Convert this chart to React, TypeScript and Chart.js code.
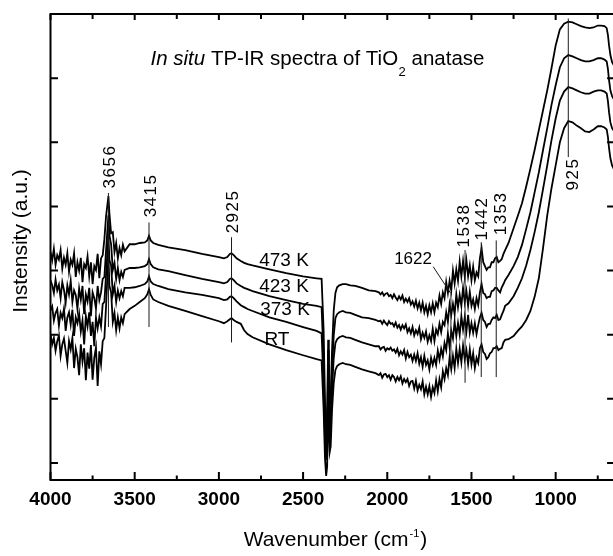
import React, { useEffect, useRef } from 'react';
import { Chart, registerables } from 'chart.js';

Chart.register(...registerables);

// ---------- data (wavenumber in cm-1, intensity in a.u.) ----------
const wavenumbers = [
  4000, 3990, 3980, 3970, 3960, 3950, 3940, 3930, 3920, 3910,
  3900, 3890, 3880, 3870, 3860, 3850, 3840, 3830, 3820, 3810,
  3800, 3790, 3780, 3770, 3760, 3750, 3740, 3730, 3720, 3710,
  3700, 3690, 3680, 3670, 3656, 3650, 3640, 3630, 3620, 3610,
  3600, 3590, 3580, 3570, 3560, 3530, 3500,
  3470, 3440, 3425, 3415, 3405, 3390, 3360, 3300, 3200, 3100,
  3000, 2970, 2950, 2935, 2925, 2912, 2895, 2870, 2850, 2830,
  2800, 2700, 2600, 2500, 2420, 2390,
  2378, 2370, 2363, 2357, 2351, 2347, 2342, 2336, 2328, 2318,
  2308, 2298, 2285, 2265, 2245, 2220, 2190, 2150, 2110, 2070,
  2050, 2040, 2030, 2020, 2010, 2000, 1990, 1980, 1970, 1960,
  1950, 1940, 1930, 1920, 1910, 1900, 1890, 1880, 1870, 1860,
  1850, 1840, 1830, 1820, 1810, 1800, 1790, 1780, 1770, 1760,
  1750, 1740, 1730, 1720, 1710, 1700, 1690, 1680, 1670, 1660,
  1650, 1640, 1630, 1620, 1610, 1600, 1590, 1580, 1570, 1560,
  1550, 1540, 1530, 1520, 1510, 1500, 1490, 1480, 1470, 1460,
  1450, 1440, 1430, 1420, 1410, 1400, 1390, 1380, 1370, 1360,
  1350, 1340, 1330, 1320, 1310,
  1300, 1280, 1250, 1225, 1200, 1175, 1150, 1125, 1100, 1075,
  1050, 1025, 1000, 975, 950, 925, 900, 875, 850, 825,
  800, 775, 750, 730, 710, 697, 690, 683, 675, 665, 650,
];

const spectrum473K = [
  32.9, 31.6, 33.4, 30.9, 32.4, 31.7, 33.2, 30.3, 32.0, 30.9,
  32.7, 29.8, 31.7, 30.9, 32.7, 29.0, 31.3, 30.0, 32.0, 28.2,
  31.0, 30.4, 32.2, 29.1, 31.3, 27.9, 30.7, 30.1, 32.6, 28.8,
  31.9, 32.4, 34.9, 38.5, 41.6, 38.9, 35.8, 36.0, 32.9, 34.3,
  31.9, 33.5, 32.4, 34.0, 33.0, 34.1, 34.1,
  34.3, 34.4, 34.7, 35.4, 34.7, 34.3, 34.0, 33.6, 33.2, 32.6,
  32.1, 31.9, 32.1, 32.6, 32.7, 32.4, 31.9, 31.5, 31.2, 31.0,
  30.8, 30.2, 29.6, 29.1, 28.8, 28.7,
  20.7, 9.8, 4.8, 6.7, 19.2, 12.1, 9.0, 10.6, 17.6, 23.8,
  26.5, 27.4, 27.7, 27.9, 27.9, 27.7, 27.6, 27.3, 26.9, 26.8,
  26.6, 26.3, 26.6, 26.1, 26.4, 26.5, 26.0, 26.2, 25.7, 26.3,
  25.8, 25.4, 26.0, 25.5, 26.1, 25.1, 25.6, 25.1, 25.7, 24.7,
  25.2, 24.4, 25.3, 24.1, 25.0, 23.8, 25.0, 23.5, 24.5, 23.2,
  24.6, 23.5, 24.9, 23.5, 25.0, 24.3, 26.1, 24.8, 26.6, 25.7,
  28.2, 26.5, 28.4, 26.9, 30.0, 28.0, 30.2, 28.4, 31.4, 29.1,
  31.5, 29.1, 31.6, 29.1, 30.8, 28.5, 30.6, 28.5, 29.7, 29.1,
  31.9, 33.5, 31.3, 30.7, 30.1, 30.5, 30.5, 31.3, 31.3, 31.9,
  32.1, 31.3, 31.5, 31.8, 32.6,
  33.2, 34.3, 36.6, 38.5, 40.5, 43.1, 45.9, 48.8, 51.9, 55.0,
  58.1, 61.5, 65.1, 67.6, 68.5, 68.8, 68.7, 68.4, 68.1, 67.9,
  67.8, 67.9, 68.2, 68.2, 68.1, 67.8, 66.8, 65.1, 63.6, 62.5, 61.8,
];

const spectrum423K = [
  28.5, 27.7, 26.5, 28.6, 26.9, 27.8, 25.7, 28.2, 27.0, 25.0,
  27.7, 26.3, 28.4, 25.1, 26.9, 26.2, 24.0, 27.2, 25.5, 27.6,
  23.2, 26.3, 25.2, 27.3, 22.9, 26.6, 25.7, 24.1, 27.6, 25.4,
  26.6, 28.7, 29.0, 33.2, 38.6, 35.5, 34.1, 30.1, 31.2, 28.7,
  30.4, 28.5, 29.8, 29.0, 30.1, 30.4, 30.4,
  30.5, 30.7, 31.0, 31.8, 31.0, 30.5, 30.2, 29.9, 29.3, 28.7,
  28.2, 28.0, 28.2, 28.7, 28.8, 28.5, 28.0, 27.6, 27.3, 27.1,
  26.8, 26.0, 25.4, 24.8, 24.5, 24.3,
  16.0, 5.9, 2.3, 3.6, 17.6, 9.8, 5.9, 7.5, 14.5, 19.9,
  22.6, 23.2, 23.5, 23.7, 23.5, 23.4, 23.1, 22.7, 22.6, 22.3,
  22.1, 22.2, 21.7, 22.2, 21.8, 21.5, 22.1, 21.7, 21.8, 21.3,
  21.9, 21.1, 21.5, 20.8, 21.5, 21.0, 21.6, 20.4, 21.0, 20.2,
  21.2, 19.9, 20.7, 20.1, 21.1, 19.3, 20.3, 19.5, 20.5, 18.9,
  19.9, 19.0, 20.9, 19.0, 20.8, 20.1, 21.7, 20.4, 22.0, 21.5,
  23.5, 22.0, 24.7, 23.1, 24.8, 23.2, 26.3, 24.3, 26.2, 24.5,
  27.3, 25.1, 26.8, 24.5, 26.7, 24.5, 25.5, 24.0, 25.7, 24.6,
  26.6, 27.9, 26.5, 26.3, 25.7, 25.9, 25.9, 26.8, 26.9, 27.3,
  27.3, 26.9, 26.6, 27.4, 27.9,
  28.5, 29.3, 30.7, 32.1, 34.0, 36.5, 39.1, 42.2, 45.3, 48.8,
  52.2, 55.8, 58.9, 61.7, 63.1, 63.6, 63.4, 63.1, 62.8, 62.6,
  62.6, 62.8, 63.1, 63.1, 62.9, 62.6, 61.5, 59.7, 58.1, 57.2, 56.5,
];

const spectrum373K = [
  23.8, 24.4, 22.2, 23.4, 24.0, 21.4, 23.4, 22.6, 24.1, 20.6,
  22.7, 23.5, 21.6, 23.9, 19.8, 22.7, 21.8, 23.3, 20.5, 22.2,
  18.5, 22.9, 21.3, 23.5, 19.8, 22.0, 18.2, 22.7, 21.0, 22.7,
  21.3, 24.8, 25.1, 29.4, 35.5, 31.6, 30.8, 26.3, 27.6, 25.1,
  26.9, 25.7, 26.8, 26.0, 27.3, 27.3, 27.4,
  27.6, 27.9, 28.3, 29.1, 28.3, 27.9, 27.6, 27.1, 26.6, 26.2,
  25.7, 25.4, 25.5, 25.9, 26.0, 25.7, 25.2, 24.6, 24.3, 24.0,
  23.7, 22.7, 22.0, 21.2, 20.6, 20.2,
  12.1, 3.6, 0.5, 1.7, 15.3, 7.5, 3.6, 5.1, 11.4, 16.4,
  18.7, 19.3, 19.6, 19.8, 19.6, 19.5, 19.2, 18.8, 18.5, 18.2,
  18.2, 17.7, 18.0, 18.1, 17.5, 17.9, 17.7, 18.0, 17.5, 17.7,
  17.2, 17.8, 16.8, 17.4, 16.9, 17.6, 16.3, 17.3, 16.5, 16.9,
  15.9, 16.9, 15.9, 17.1, 15.5, 16.5, 15.0, 16.7, 15.3, 16.0,
  14.6, 16.4, 15.3, 16.4, 15.3, 17.5, 16.1, 17.8, 16.6, 18.7,
  17.6, 20.2, 18.1, 20.6, 19.4, 22.0, 19.8, 21.8, 20.0, 22.9,
  20.8, 22.7, 20.5, 23.1, 20.3, 21.8, 20.3, 21.8, 20.1, 21.5,
  22.7, 23.4, 22.3, 22.0, 21.2, 21.7, 21.7, 22.3, 22.7, 22.6,
  23.1, 22.3, 22.4, 23.1, 23.7,
  24.5, 24.9, 26.0, 27.3, 28.8, 30.8, 33.2, 36.0, 39.1, 42.7,
  46.4, 50.3, 53.7, 56.5, 57.9, 58.6, 58.4, 58.1, 57.8, 57.6,
  57.6, 57.9, 58.1, 58.1, 57.9, 57.6, 56.5, 54.7, 53.1, 52.2, 51.6,
];

const spectrumRT = [
  20.1, 18.5, 19.5, 17.5, 19.0, 19.9, 16.7, 18.5, 19.4, 17.5,
  15.6, 19.0, 17.7, 19.5, 14.8, 17.8, 16.5, 13.7, 18.5, 15.8,
  17.9, 12.9, 17.2, 14.7, 18.4, 13.0, 16.4, 18.0, 12.0, 17.4,
  15.4, 19.0, 19.5, 24.5, 32.4, 27.6, 26.6, 22.0, 23.4, 20.7,
  22.7, 21.0, 22.7, 21.8, 23.2, 24.0, 24.5,
  25.1, 25.7, 26.3, 27.1, 26.2, 25.5, 25.1, 24.5, 23.7, 22.9,
  22.1, 21.8, 22.1, 22.4, 22.6, 22.3, 22.0, 21.7, 20.7, 20.1,
  19.6, 18.5, 17.6, 16.8, 16.2, 16.0,
  8.3, 0.8, -2.0, -0.5, 12.1, 5.1, 1.7, 2.6, 8.3, 12.5,
  14.5, 15.1, 15.4, 15.6, 15.4, 15.3, 15.0, 14.6, 14.3, 14.0,
  13.7, 14.0, 13.3, 13.8, 13.9, 13.4, 13.7, 13.0, 13.7, 13.4,
  12.7, 13.4, 12.9, 13.5, 12.4, 13.1, 12.6, 13.1, 12.0, 12.7,
  12.8, 11.6, 12.8, 11.3, 12.2, 11.5, 12.7, 10.7, 11.9, 10.7,
  12.0, 10.3, 11.8, 10.9, 12.9, 11.2, 13.1, 11.8, 14.3, 13.1,
  14.8, 13.7, 16.4, 14.6, 16.7, 14.8, 17.8, 15.6, 17.8, 15.7,
  18.3, 16.2, 17.6, 15.4, 17.7, 15.4, 17.1, 14.8, 16.4, 15.6,
  17.9, 18.5, 17.3, 17.0, 16.2, 16.5, 17.1, 17.3, 17.9, 17.9,
  18.2, 17.6, 17.8, 17.9, 18.8,
  19.2, 19.3, 19.8, 20.6, 21.3, 22.3, 23.7, 25.9, 28.8, 33.5,
  38.6, 42.8, 46.4, 50.0, 52.2, 53.3, 53.1, 52.6, 52.2, 51.7,
  51.6, 52.0, 52.5, 52.5, 52.3, 52.0, 50.9, 49.1, 47.5, 46.4, 45.6,
];

const seriesNames = ['473 K', '423 K', '373 K', 'RT'];
const seriesValues = [spectrum473K, spectrum423K, spectrum373K, spectrumRT];

const xMajorTicks = [1000, 1500, 2000, 2500, 3000, 3500, 4000];
const xMinorTicks = [750, 1250, 1750, 2250, 2750, 3250, 3750];
const yTickValues = [0, 10, 20, 30, 40, 50, 60];

// ---------- annotations ----------
const FONT = '"Liberation Sans", Arial, sans-serif';

const peakMarks = [
  { text: '3656', x: 3656, lineTop: 42.1, lineBottom: 21.2, labelStart: 42.8, dx: 2 },
  { text: '3415', x: 3415, lineTop: 37.5, lineBottom: 21.2, labelStart: 38.3, dx: 2 },
  { text: '2925', x: 2925, lineTop: 35.2, lineBottom: 18.8, labelStart: 35.8, dx: 1.5 },
  { text: '1538', x: 1538, lineTop: 33.2, lineBottom: 12.5, labelStart: 33.6, dx: -1 },
  { text: '1442', x: 1442, lineTop: 34.4, lineBottom: 13.4, labelStart: 34.7, dx: 1 },
  { text: '1353', x: 1353, lineTop: 34.7, lineBottom: 13.4, labelStart: 35.5, dx: 5 },
  { text: '925', x: 925, lineTop: 69.3, lineBottom: 47.7, labelStart: 42.5, dx: 5 },
];

const mark1622 = {
  text: '1622', x: 1622, lineTop: 26.4, lineBottom: 15.0,
  leaderFrom: { x: 1727, y: 30.6 }, labelX: 1847, labelY: 31.8,
};

const curveLabels = [
  { text: '473 K', x: 2613, y: 31.6 },
  { text: '423 K', x: 2613, y: 27.4 },
  { text: '373 K', x: 2607, y: 23.9 },
  { text: 'RT', x: 2655, y: 19.2 },
];

const decorPlugin = {
  id: 'decor',
  afterDatasetsDraw(chart: any) {
    const { ctx, scales } = chart;
    const x = scales.x;
    const y = scales.y;
    ctx.save();
    ctx.strokeStyle = '#1a1a1a';
    ctx.fillStyle = '#000';
    ctx.lineWidth = 1;
    for (const p of peakMarks) {
      const px = x.getPixelForValue(p.x);
      ctx.beginPath();
      ctx.moveTo(px, y.getPixelForValue(p.lineTop));
      ctx.lineTo(px, y.getPixelForValue(p.lineBottom));
      ctx.stroke();
      ctx.save();
      ctx.translate(px + p.dx, y.getPixelForValue(p.labelStart));
      ctx.rotate(-Math.PI / 2);
      ctx.font = `17px ${FONT}`;
      (ctx as any).letterSpacing = '1.5px';
      ctx.textAlign = 'left';
      ctx.textBaseline = 'middle';
      ctx.fillText(p.text, 0, 0);
      ctx.restore();
    }
    // 1622 mark with leader
    {
      const px = x.getPixelForValue(mark1622.x);
      const topPy = y.getPixelForValue(mark1622.lineTop);
      ctx.beginPath();
      ctx.moveTo(px, topPy);
      ctx.lineTo(px, y.getPixelForValue(mark1622.lineBottom));
      ctx.stroke();
      ctx.beginPath();
      ctx.moveTo(x.getPixelForValue(mark1622.leaderFrom.x), y.getPixelForValue(mark1622.leaderFrom.y));
      ctx.lineTo(px, topPy);
      ctx.stroke();
      (ctx as any).letterSpacing = '0px';
      ctx.font = `17px ${FONT}`;
      ctx.textAlign = 'center';
      ctx.textBaseline = 'middle';
      ctx.fillText(mark1622.text, x.getPixelForValue(mark1622.labelX), y.getPixelForValue(mark1622.labelY));
    }
    // curve labels
    (ctx as any).letterSpacing = '0px';
    ctx.font = `19px ${FONT}`;
    ctx.textAlign = 'center';
    ctx.textBaseline = 'middle';
    for (const c of curveLabels) {
      ctx.fillText(c.text, x.getPixelForValue(c.x), y.getPixelForValue(c.y));
    }
    ctx.restore();
  },
  afterDraw(chart: any) {
    const { ctx, chartArea: a, scales } = chart;
    const x = scales.x;
    const y = scales.y;
    ctx.save();
    (ctx as any).letterSpacing = '0px';
    ctx.strokeStyle = '#000';
    ctx.lineWidth = 2;
    ctx.strokeRect(a.left, a.top, a.right - a.left, a.bottom - a.top);
    ctx.beginPath();
    for (const v of xMajorTicks) {
      const px = x.getPixelForValue(v);
      ctx.moveTo(px, a.bottom);
      ctx.lineTo(px, a.bottom - 8);
      ctx.moveTo(px, a.top);
      ctx.lineTo(px, a.top + 6);
    }
    for (const v of xMinorTicks) {
      const px = x.getPixelForValue(v);
      ctx.moveTo(px, a.bottom);
      ctx.lineTo(px, a.bottom - 4.5);
      ctx.moveTo(px, a.top);
      ctx.lineTo(px, a.top + 5);
    }
    for (const v of yTickValues) {
      const py = y.getPixelForValue(v);
      ctx.moveTo(a.left, py);
      ctx.lineTo(a.left + 7.5, py);
      ctx.moveTo(a.right, py);
      ctx.lineTo(a.right - 7.5, py);
    }
    ctx.stroke();

    ctx.fillStyle = '#000';
    // title
    ctx.textAlign = 'left';
    ctx.textBaseline = 'alphabetic';
    let tx = 150.5;
    const ty = 65;
    ctx.font = `italic 20.5px ${FONT}`;
    ctx.fillText('In situ', tx, ty);
    tx += ctx.measureText('In situ').width;
    ctx.font = `20.5px ${FONT}`;
    ctx.fillText(' TP-IR spectra of TiO', tx, ty);
    tx += ctx.measureText(' TP-IR spectra of TiO').width;
    ctx.font = `13px ${FONT}`;
    ctx.fillText('2', tx + 0.5, 76);
    tx += ctx.measureText('2').width + 0.5;
    ctx.font = `20.5px ${FONT}`;
    ctx.fillText(' anatase', tx, ty);

    // x axis title
    const main = 'Wavenumber (cm';
    ctx.font = `21px ${FONT}`;
    const w1 = ctx.measureText(main).width;
    const w3 = ctx.measureText(')').width;
    ctx.font = `11px ${FONT}`;
    const w2 = ctx.measureText('-1').width + 2;
    const total = w1 + w2 + w3;
    let xx = 335.5 - total / 2;
    ctx.font = `21px ${FONT}`;
    ctx.fillText(main, xx, 546);
    xx += w1;
    ctx.font = `11px ${FONT}`;
    ctx.fillText('-1', xx + 1, 537);
    xx += w2;
    ctx.font = `21px ${FONT}`;
    ctx.fillText(')', xx, 546);

    // y axis title
    ctx.save();
    ctx.translate(21, 241);
    ctx.rotate(-Math.PI / 2);
    ctx.textAlign = 'center';
    ctx.textBaseline = 'middle';
    ctx.font = `21px ${FONT}`;
    ctx.fillText('Instensity (a.u.)', 0, 0);
    ctx.restore();
    ctx.restore();
  },
};

export default function App() {
  const ref = useRef<HTMLCanvasElement>(null);
  useEffect(() => {
    const canvas = ref.current;
    if (!canvas) return;
    const chart = new Chart(canvas, {
      type: 'line',
      data: {
        datasets: seriesValues.map((vals, k) => ({
          label: seriesNames[k],
          data: wavenumbers.map((w, i) => ({ x: w, y: vals[i] })),
          borderColor: '#000',
          borderWidth: 1.8,
          pointRadius: 0,
          fill: false,
          tension: 0,
        })),
      },
      options: {
        responsive: false,
        devicePixelRatio: 1,
        animation: false,
        events: [],
        layout: { padding: { left: 50.5, top: 14, right: 25.4, bottom: 0 } },
        plugins: { legend: { display: false }, tooltip: { enabled: false }, title: { display: false } },
        scales: {
          x: {
            type: 'linear',
            reverse: true,
            min: 650,
            max: 4000,
            afterBuildTicks: (s: any) => {
              s.ticks = xMajorTicks.map((v) => ({ value: v }));
            },
            afterFit: (s: any) => {
              s.height = 76;
            },
            ticks: {
              callback: (v: any) => String(v),
              font: { size: 19, weight: 'bold', family: FONT },
              color: '#000',
              padding: 8,
              maxRotation: 0,
              autoSkip: false,
            },
            grid: { display: false, drawTicks: false },
            border: { display: false },
          },
          y: {
            type: 'linear',
            display: false,
            min: -2.65,
            max: 70,
          },
        },
      },
      plugins: [decorPlugin],
    } as any);
    return () => chart.destroy();
  }, []);
  return (
    <div
      style={{
        position: 'fixed',
        left: 0,
        top: 0,
        width: 613,
        height: 556,
        overflow: 'hidden',
        background: '#fff',
      }}
    >
      <canvas ref={ref} width={640} height={556} style={{ display: 'block', width: 640, height: 556 }} />
    </div>
  );
}
